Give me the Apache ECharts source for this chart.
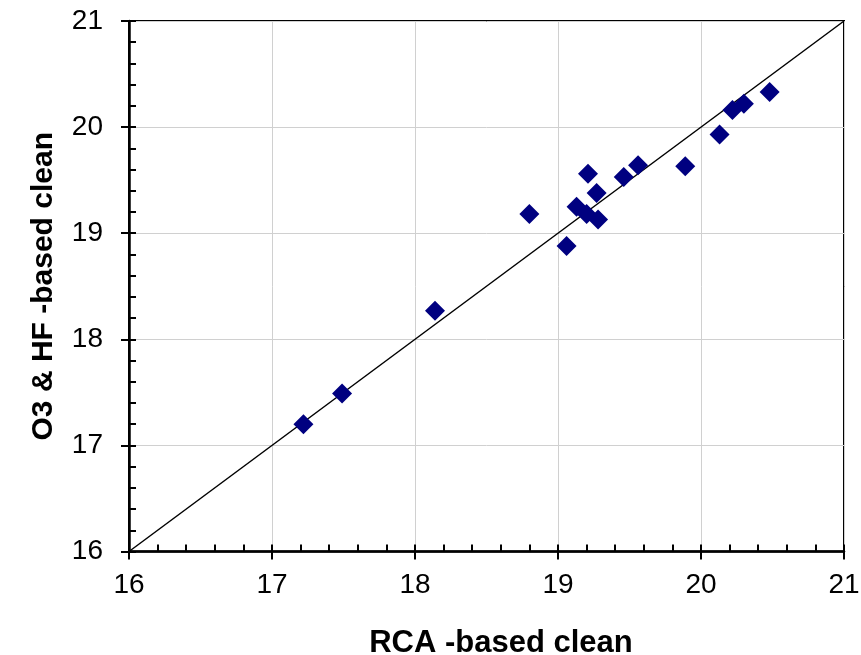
<!DOCTYPE html>
<html>
<head>
<meta charset="utf-8">
<script src="https://cdn.jsdelivr.net/npm/echarts@6/dist/echarts.min.js"></script>
<style>
  html, body { margin: 0; padding: 0; background: #ffffff; }
  #chart { width: 861px; height: 655px; }
</style>
</head>
<body>
<div id="chart"></div>
<script>
// Cleaning comparison: RCA-based vs O3 & HF-based
const rcaValues  = [17.22, 17.49, 18.14, 18.80, 19.06, 19.13, 19.20, 19.28, 19.27, 19.21, 19.46, 19.56, 19.89, 20.13, 20.22, 20.30, 20.48];
const o3hfValues = [17.20, 17.49, 18.27, 19.18, 18.88, 19.25, 19.18, 19.13, 19.38, 19.56, 19.53, 19.64, 19.63, 19.93, 20.16, 20.22, 20.33];
const axisMin = 16;
const axisMax = 21;
const axisStep = 1;
const xTitle = 'RCA -based clean';
const yTitle = 'O3 & HF -based clean';

const points = rcaValues.map((x, i) => [x, o3hfValues[i]]);
const identityLine = [[axisMin, axisMin], [axisMax, axisMax]];

const FONT = '"Liberation Sans", Arial, sans-serif';
const gridRect = { left: 129, right: 17, top: 21, bottom: 103.5, outerBoundsMode: 'none', containLabel: false };

function baseAxis(extra) {
  return Object.assign({
    type: 'value',
    min: axisMin,
    max: axisMax,
    interval: axisStep
  }, extra);
}

const chart = echarts.init(document.getElementById('chart'), null, { renderer: 'canvas' });

chart.setOption({
  backgroundColor: '#ffffff',
  animation: false,
  grid: [
    Object.assign({ show: true, borderColor: '#000', borderWidth: 2, backgroundColor: 'transparent' }, gridRect),
    Object.assign({ show: false }, gridRect)
  ],
  xAxis: [
    baseAxis({
      gridIndex: 0,
      position: 'bottom',
      axisLine: { show: true, lineStyle: { color: '#000', width: 2.5 } },
      axisTick: { show: true, inside: true, length: 7, lineStyle: { color: '#000', width: 2 } },
      minorTick: { show: true, splitNumber: 5, length: 7, lineStyle: { color: '#000', width: 2 } },
      splitLine: { show: true, lineStyle: { color: '#d0d0d0', width: 1 } },
      axisLabel: { fontFamily: FONT, fontSize: 28, color: '#000', margin: 20 },
      name: xTitle,
      nameLocation: 'middle',
      nameGap: 76,
      nameTextStyle: { fontFamily: FONT, fontSize: 31, fontWeight: 'bold', color: '#000', padding: [0, 0, 0, 29] }
    }),
    baseAxis({
      gridIndex: 1,
      position: 'bottom',
      axisLine: { show: false },
      axisTick: { show: true, inside: false, length: 8, lineStyle: { color: '#000', width: 2 } },
      axisLabel: { show: false },
      splitLine: { show: false }
    })
  ],
  yAxis: [
    baseAxis({
      gridIndex: 0,
      position: 'left',
      axisLine: { show: true, lineStyle: { color: '#000', width: 2.5 } },
      axisTick: { show: true, inside: true, length: 7, lineStyle: { color: '#000', width: 2 } },
      minorTick: { show: true, splitNumber: 5, length: 7, lineStyle: { color: '#000', width: 2 } },
      splitLine: { show: true, lineStyle: { color: '#d0d0d0', width: 1 } },
      axisLabel: { fontFamily: FONT, fontSize: 28, color: '#000', margin: 26 },
      name: yTitle,
      nameLocation: 'middle',
      nameGap: 70,
      nameRotate: 90,
      nameTextStyle: { fontFamily: FONT, fontSize: 30, fontWeight: 'bold', color: '#000' }
    }),
    baseAxis({
      gridIndex: 1,
      position: 'left',
      axisLine: { show: false },
      axisTick: { show: true, inside: false, length: 8, lineStyle: { color: '#000', width: 2 } },
      axisLabel: { show: false },
      splitLine: { show: false }
    })
  ],
  series: [
    {
      type: 'line',
      xAxisIndex: 0,
      yAxisIndex: 0,
      data: identityLine,
      symbol: 'none',
      lineStyle: { color: '#000', width: 1.5 },
      silent: true,
      z: 3
    },
    {
      type: 'scatter',
      xAxisIndex: 0,
      yAxisIndex: 0,
      data: points,
      symbol: 'diamond',
      symbolSize: [20, 20],
      itemStyle: { color: '#000080', opacity: 1 },
      z: 4
    }
  ]
});
</script>
</body>
</html>
